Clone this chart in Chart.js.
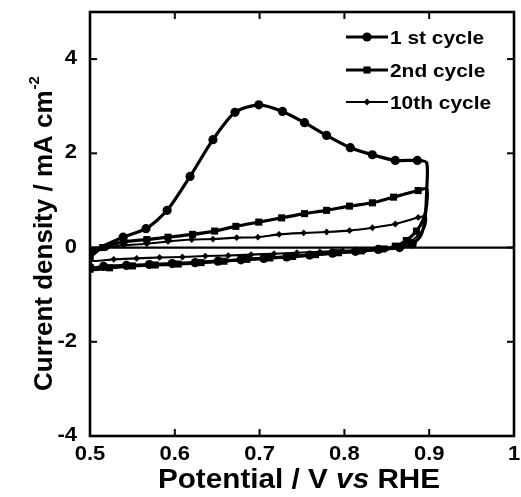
<!DOCTYPE html>
<html>
<head>
<meta charset="utf-8">
<script src="https://cdn.jsdelivr.net/npm/chart.js@4.4.1/dist/chart.umd.min.js"></script>
<style>
  html, body { margin: 0; padding: 0; background: #fff; }
  #wrap { width: 521px; height: 497px; position: relative; }
</style>
</head>
<body>
<div id="wrap"><canvas id="c" width="521" height="497"></canvas></div>
<script>
// ---------- DATA ----------
const seriesNames = ['1 st cycle', '2nd cycle', '10th cycle'];

const cycle1Potential = [0.500, 0.539, 0.566, 0.591, 0.618, 0.645, 0.671, 0.699, 0.727, 0.753, 0.779, 0.807, 0.833, 0.860, 0.886, 0.897, 0.897, 0.895, 0.890, 0.880, 0.865, 0.840, 0.813, 0.786, 0.759, 0.732, 0.705, 0.678, 0.651, 0.624, 0.597, 0.570, 0.543, 0.516, 0.500, 0.500];
const cycle1Current   = [-0.09, 0.22, 0.40, 0.79, 1.51, 2.29, 2.87, 3.03, 2.89, 2.65, 2.38, 2.12, 1.97, 1.85, 1.85, 1.80, 1.20, 0.60, 0.25, 0.08, 0.00, -0.04, -0.08, -0.12, -0.16, -0.20, -0.23, -0.26, -0.29, -0.32, -0.34, -0.36, -0.38, -0.40, -0.42, -0.09];

const cycle2Potential = [0.500, 0.515, 0.540, 0.567, 0.592, 0.621, 0.647, 0.672, 0.699, 0.726, 0.753, 0.779, 0.806, 0.833, 0.858, 0.887, 0.897, 0.897, 0.893, 0.885, 0.873, 0.860, 0.845, 0.820, 0.793, 0.766, 0.739, 0.712, 0.685, 0.658, 0.631, 0.604, 0.577, 0.550, 0.523, 0.500, 0.500];
const cycle2Current   = [-0.20, 0.00, 0.12, 0.17, 0.22, 0.28, 0.35, 0.45, 0.54, 0.63, 0.72, 0.79, 0.88, 0.95, 1.07, 1.21, 1.25, 0.90, 0.60, 0.35, 0.15, 0.03, -0.03, -0.07, -0.11, -0.15, -0.19, -0.22, -0.25, -0.29, -0.32, -0.35, -0.37, -0.39, -0.43, -0.46, -0.20];

const cycle10Potential = [0.500, 0.520, 0.540, 0.567, 0.592, 0.620, 0.645, 0.673, 0.698, 0.723, 0.752, 0.779, 0.806, 0.833, 0.860, 0.887, 0.896, 0.895, 0.888, 0.878, 0.865, 0.850, 0.825, 0.798, 0.771, 0.744, 0.717, 0.690, 0.663, 0.636, 0.609, 0.582, 0.555, 0.528, 0.500, 0.500];
const cycle10Current   = [-0.12, 0.00, 0.05, 0.08, 0.13, 0.17, 0.18, 0.21, 0.22, 0.28, 0.31, 0.33, 0.36, 0.42, 0.50, 0.64, 0.66, 0.45, 0.28, 0.13, 0.03, -0.02, -0.05, -0.07, -0.09, -0.11, -0.13, -0.15, -0.17, -0.18, -0.20, -0.21, -0.23, -0.25, -0.28, -0.12];

const xTicks = [0.5, 0.6, 0.7, 0.8, 0.9, 1];
const yTicks = [-4, -2, 0, 2, 4];
const xRange = [0.5, 1.0];
const yRange = [-4, 5];

// ---------- BUILD ----------
const FONT = '"Liberation Sans", Arial, Helvetica, sans-serif';
const STRETCH = 1.1; // horizontal stretch of the reference lettering
function pairs(xs, ys) { return xs.map((x, i) => ({ x: x, y: ys[i] })); }
function markerRadius(r) {
  return ctx => (ctx.raw && ctx.raw.x > 0.889) ? 0 : r;
}

const styles = [
  { pointStyle: 'circle', radius: 4.6, width: 3.2 },
  { pointStyle: 'rect', radius: 5, width: 3.2 },
  { pointStyle: 'rectRot', radius: 3.4, width: 2.1 }
];
const dataSets = [
  pairs(cycle1Potential, cycle1Current),
  pairs(cycle2Potential, cycle2Current),
  pairs(cycle10Potential, cycle10Current)
];

const datasets = dataSets.map((d, i) => ({
  label: seriesNames[i],
  data: d,
  showLine: true,
  borderColor: '#000',
  backgroundColor: '#000',
  borderWidth: styles[i].width,
  pointStyle: styles[i].pointStyle,
  pointRadius: markerRadius(styles[i].radius),
  pointBorderWidth: 0,
  pointBackgroundColor: '#000',
  tension: 0.25
}));

// draw text with horizontal stretch; align: 'left' | 'center' | 'right'
function sText(ctx, txt, x, y, font, align, k) {
  const st = k || STRETCH;
  ctx.save();
  ctx.font = font;
  const w = ctx.measureText(txt).width * st;
  let lx = x;
  if (align === 'center') lx = x - w / 2;
  else if (align === 'right') lx = x - w;
  ctx.translate(lx, y);
  ctx.scale(st, 1);
  ctx.textAlign = 'left';
  ctx.fillText(txt, 0, 0);
  ctx.restore();
  return w;
}
function sWidth(ctx, txt, font, k) {
  const st = k || STRETCH;
  ctx.save(); ctx.font = font;
  const w = ctx.measureText(txt).width * st;
  ctx.restore(); return w;
}

const decorPlugin = {
  id: 'decor',
  afterDatasetsDraw(chart) {
    const ctx = chart.ctx;
    const a = chart.chartArea;
    const xs = chart.scales.x, ys = chart.scales.y;
    ctx.save();
    ctx.fillStyle = '#000';
    ctx.strokeStyle = '#000';
    // zero line
    ctx.lineWidth = 2.2;
    const y0 = ys.getPixelForValue(0);
    ctx.beginPath(); ctx.moveTo(a.left, y0); ctx.lineTo(a.right, y0); ctx.stroke();
    // frame
    ctx.lineWidth = 2.6;
    ctx.strokeRect(a.left, a.top, a.right - a.left, a.bottom - a.top);
    // inward ticks
    ctx.lineWidth = 2;
    const tl = 7;
    xTicks.forEach(v => {
      const px = xs.getPixelForValue(v);
      ctx.beginPath(); ctx.moveTo(px, a.bottom); ctx.lineTo(px, a.bottom - tl); ctx.stroke();
      ctx.beginPath(); ctx.moveTo(px, a.top); ctx.lineTo(px, a.top + tl); ctx.stroke();
    });
    yTicks.forEach(v => {
      const py = ys.getPixelForValue(v);
      ctx.beginPath(); ctx.moveTo(a.left, py); ctx.lineTo(a.left + tl, py); ctx.stroke();
      ctx.beginPath(); ctx.moveTo(a.right, py); ctx.lineTo(a.right - tl, py); ctx.stroke();
    });
    // tick labels
    ctx.textBaseline = 'alphabetic';
    const tf = 'bold 20px ' + FONT;
    xTicks.forEach(v => {
      sText(ctx, String(v), xs.getPixelForValue(v), a.bottom + 24, tf, 'center');
    });
    yTicks.forEach(v => {
      sText(ctx, String(v), 77, ys.getPixelForValue(v) + 5, tf, 'right');
    });
    // legend
    const rows = [37, 70, 102];
    chart.data.datasets.forEach((ds, i) => {
      const y = rows[i];
      ctx.lineWidth = styles[i].width;
      ctx.beginPath(); ctx.moveTo(346, y); ctx.lineTo(388, y); ctx.stroke();
      Chart.helpers.drawPoint(ctx, {
        pointStyle: styles[i].pointStyle,
        radius: styles[i].radius,
        borderWidth: 0
      }, 367, y);
      ctx.fillStyle = '#000';
      sText(ctx, ds.label, 390, y + 7, 'bold 19px ' + FONT, 'left');
    });
    // x title
    const fN = 'bold 27px ' + FONT, fI = 'italic bold 27px ' + FONT;
    const p1 = 'Potential / V ', p2 = 'vs', p3 = ' RHE';
    const w1 = sWidth(ctx, p1, fN), w2 = sWidth(ctx, p2, fI), w3 = sWidth(ctx, p3, fN);
    const sx = 299 - (w1 + w2 + w3) / 2;
    const by = 488;
    sText(ctx, p1, sx, by, fN, 'left');
    sText(ctx, p2, sx + w1, by, fI, 'left');
    sText(ctx, p3, sx + w1 + w2, by, fN, 'left');
    // y title
    ctx.save();
    ctx.translate(52, 234);
    ctx.rotate(-Math.PI / 2);
    const t = 'Current density / mA cm';
    const fT = 'bold 26px ' + FONT, fS = 'bold 15px ' + FONT;
    const tw = sWidth(ctx, t, fT, 1);
    const sw = sWidth(ctx, '-2', fS, 1);
    const start = -(tw + sw) / 2;
    sText(ctx, t, start, 0, fT, 'left', 1);
    sText(ctx, '-2', start + tw + 1, -13, fS, 'left', 1);
    ctx.restore();
    ctx.restore();
  }
};

new Chart(document.getElementById('c'), {
  type: 'scatter',
  data: { datasets },
  options: {
    responsive: false,
    animation: false,
    layout: { padding: { left: 0, top: 12, right: 7, bottom: 0 } },
    plugins: { legend: { display: false }, tooltip: { enabled: false } },
    scales: {
      x: {
        type: 'linear',
        min: xRange[0], max: xRange[1],
        afterBuildTicks: s => { s.ticks = xTicks.map(v => ({ value: v })); },
        afterFit: s => { s.height = 61; },
        grid: { display: false, drawTicks: false },
        border: { display: false },
        ticks: { display: false }
      },
      y: {
        type: 'linear',
        min: yRange[0], max: yRange[1],
        afterBuildTicks: s => { s.ticks = yTicks.map(v => ({ value: v })); },
        afterFit: s => { s.width = 90; },
        grid: { display: false, drawTicks: false },
        border: { display: false },
        ticks: { display: false }
      }
    }
  },
  plugins: [decorPlugin]
});
</script>
</body>
</html>
